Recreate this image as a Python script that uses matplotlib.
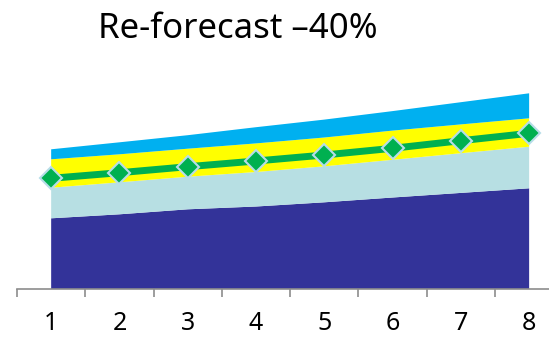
import matplotlib
matplotlib.use('Agg')
import matplotlib.pyplot as plt
import numpy as np

# categories and stacked layers
periods = [1, 2, 3, 4, 5, 6, 7, 8]
base = [70.7, 74.7, 79.7, 82.5, 86.7, 91.5, 96.1, 100.7]
lower_band = [30.6, 32.0, 32.6, 34.5, 36.0, 37.7, 39.7, 41.6]
mid_band = [28.4, 28.0, 28.0, 28.6, 28.8, 29.2, 28.8, 28.4]
upper_band = [10.0, 12.0, 13.5, 16.2, 17.9, 19.5, 22.2, 25.0]
reforecast = [110.7, 116.3, 122.3, 128.0, 134.0, 140.7, 148.3, 155.7]

title = 'Re-forecast \u201340%'

fig = plt.figure(figsize=(5.49, 3.37), dpi=100)
ax = fig.add_axes([0.031, 0.1424, 0.995, 0.5935])

ax.stackplot(periods, base, lower_band, mid_band, upper_band,
             colors=['#333399', '#b7dfe3', '#ffff00', '#00b0f0'], linewidth=0)
ax.plot(periods, reforecast, color='#00b050', lw=5, marker='D', ms=11,
        mfc='#00b050', mec='#b7dde8', mew=1.5, clip_on=False, zorder=5)

ax.set_xlim(0.5, 8.5)
ax.set_ylim(0, 200)
for s in ['top', 'right', 'left']:
    ax.spines[s].set_visible(False)
ax.spines['bottom'].set_color('#8c8c8c')
ax.spines['bottom'].set_linewidth(1.2)
ax.set_yticks([])
ax.set_xticks(periods)
ax.set_xticklabels([str(p) for p in periods], fontsize=18, family='Noto Sans')
ax.set_xticks(np.arange(0.5, 9, 1), minor=True)
ax.tick_params(axis='x', which='major', length=0, pad=16)
ax.tick_params(axis='x', which='minor', length=6, width=1.2, color='#8c8c8c')

fig.text(0.1785, 0.887, title, fontsize=25, family='Noto Sans', va='baseline')

fig.savefig('out.png', dpi=100)
